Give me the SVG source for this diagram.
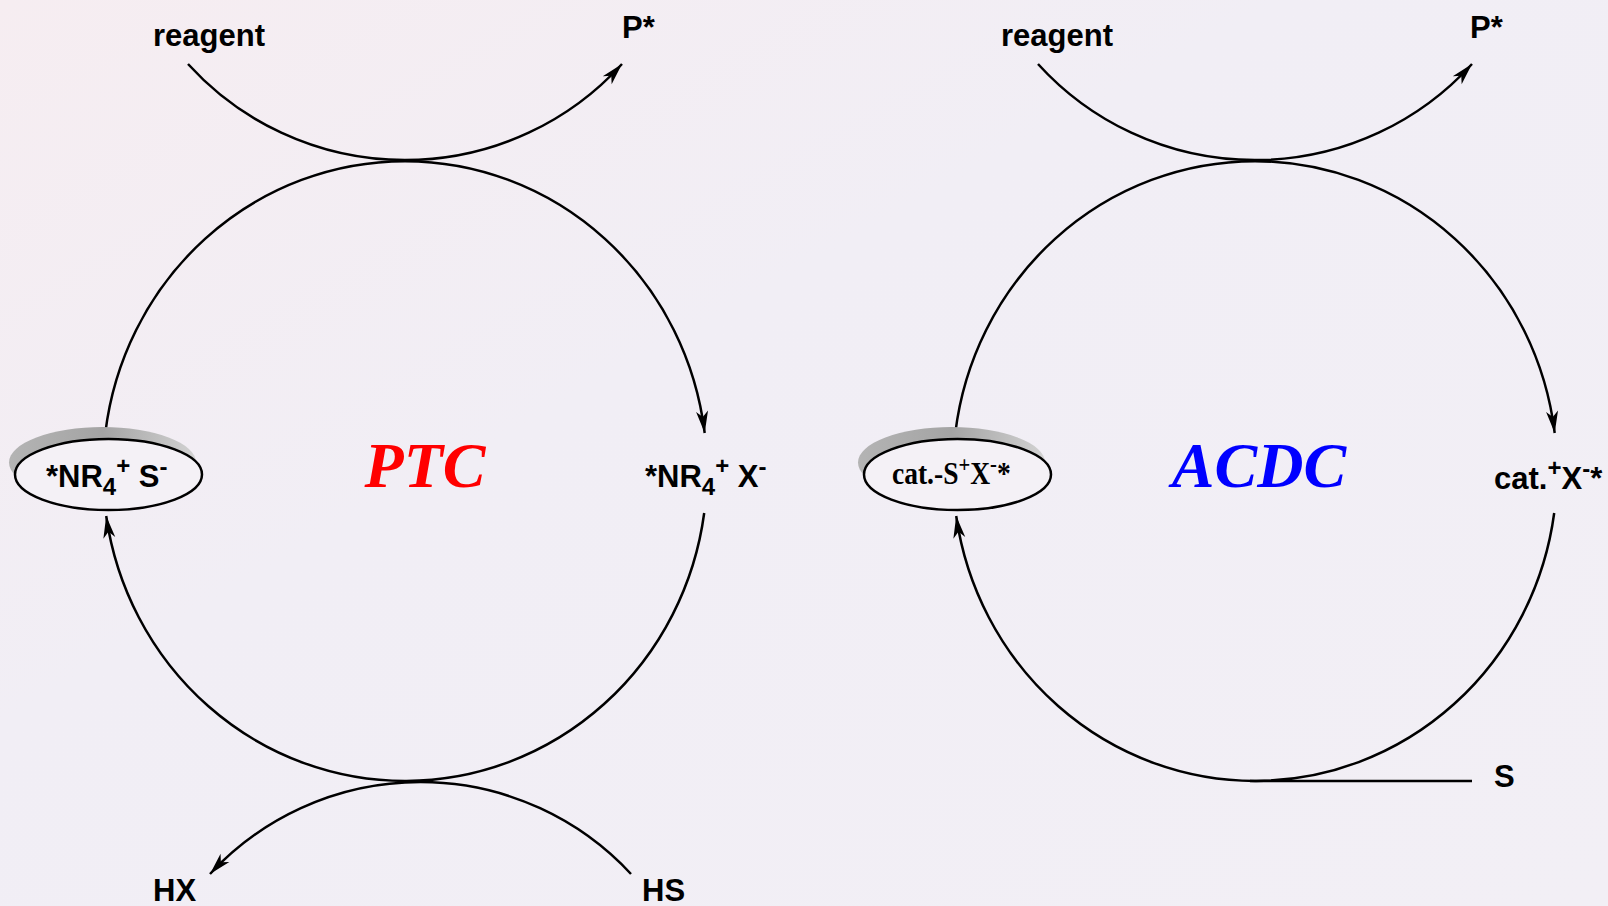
<svg xmlns="http://www.w3.org/2000/svg" width="1608" height="906" viewBox="0 0 1608 906">
<defs>
<linearGradient id="bg" x1="0" y1="0" x2="1" y2="1">
<stop offset="0" stop-color="#f6edf1"/>
<stop offset="0.4" stop-color="#f1eef5"/>
<stop offset="1" stop-color="#f2eff5"/>
</linearGradient>
<linearGradient id="shadow" x1="0" y1="0" x2="1" y2="0">
<stop offset="0" stop-color="#b4b4b4"/>
<stop offset="0.5" stop-color="#a4a4a4"/>
<stop offset="1" stop-color="#d2d2d2"/>
</linearGradient>
<marker id="arr" viewBox="-23 -7 24 14" refX="0" refY="0" markerWidth="24" markerHeight="14" markerUnits="userSpaceOnUse" orient="auto">
<path d="M0,0 L-22,-6 L-16,0 L-22,6 Z" fill="#000"/>
</marker>
</defs>
<style>
.ln{fill:none;stroke:#000;stroke-width:2.5}
.lbl{font-family:"Liberation Sans",Arial,sans-serif;font-weight:bold;font-size:31px;fill:#000}
.lbs{font-family:"Liberation Serif","Times New Roman",serif;font-weight:bold;font-size:32px;fill:#000}
.big{font-family:"Liberation Serif","Times New Roman",serif;font-weight:bold;font-style:italic;font-size:64px}
.node{fill:#f4f1f6;stroke:#000;stroke-width:2.5}
.shd{fill:url(#shadow)}
</style>
<rect x="0" y="0" width="1608" height="906" fill="url(#bg)"/>

<g id="connectors">
<path class="ln" d="M105.3,433 A302,310 0 0 1 704.7,433" marker-end="url(#arr)"/>
<path class="ln" d="M704.2,513 A302,310 0 0 1 106.2,516" marker-end="url(#arr)"/>
<path class="ln" d="M188,64 A293,293 0 0 0 622,64" marker-end="url(#arr)"/>
<path class="ln" d="M631,874 A287,287 0 0 0 210,874" marker-end="url(#arr)"/>
<path class="ln" d="M955.3,433 A302,310 0 0 1 1554.7,433" marker-end="url(#arr)"/>
<path class="ln" d="M1554.2,513 A302,310 0 0 1 956.2,516" marker-end="url(#arr)"/>
<path class="ln" d="M1038,64 A293,293 0 0 0 1472,64" marker-end="url(#arr)"/>
<path class="ln" d="M1250,781 L1472,781"/>
</g>

<g id="node-nr4s">
<ellipse class="shd" cx="102.5" cy="462.5" rx="93.5" ry="35.5"/>
<ellipse class="node" cx="108.5" cy="474.5" rx="93.5" ry="35.5"/>
<text class="lbl" x="46" y="487">*NR<tspan font-size="24" dy="8">4</tspan><tspan font-size="24" dy="-21">+</tspan><tspan dy="13"> S</tspan><tspan font-size="24" dy="-12">-</tspan></text>
</g>

<g id="node-nr4x">
<text class="lbl" x="645" y="487">*NR<tspan font-size="24" dy="8">4</tspan><tspan font-size="24" dy="-21">+</tspan><tspan dy="13"> X</tspan><tspan font-size="24" dy="-12">-</tspan></text>
</g>

<g id="node-reagent-left"><text class="lbl" x="153" y="46">reagent</text></g>
<g id="node-pstar-left"><text class="lbl" x="622" y="38">P*</text></g>
<g id="node-hx"><text class="lbl" x="153" y="901">HX</text></g>
<g id="node-hs"><text class="lbl" x="642" y="901">HS</text></g>
<g id="label-ptc"><text class="big" x="425" y="487" text-anchor="middle" fill="#ff0000">PTC</text></g>

<g id="node-cat-sx">
<ellipse class="shd" cx="951.5" cy="462.5" rx="93.5" ry="35.5"/>
<ellipse class="node" cx="957.5" cy="474.5" rx="93.5" ry="35.5"/>
<text class="lbs" transform="translate(892,484) scale(0.86,1)" x="0" y="0">cat.-S<tspan font-size="24" dy="-12">+</tspan><tspan dy="12">X</tspan><tspan font-size="24" dy="-12">-</tspan><tspan dy="12">*</tspan></text>
</g>

<g id="node-cat-x">
<text class="lbl" x="1494" y="489">cat.<tspan font-size="24" dy="-13">+</tspan><tspan dy="13">X</tspan><tspan font-size="24" dy="-12">-</tspan><tspan dy="12">*</tspan></text>
</g>

<g id="node-reagent-right"><text class="lbl" x="1001" y="46">reagent</text></g>
<g id="node-pstar-right"><text class="lbl" x="1470" y="38">P*</text></g>
<g id="node-s"><text class="lbl" x="1494" y="787">S</text></g>
<g id="label-acdc"><text class="big" x="1259" y="487" text-anchor="middle" fill="#0000ff">ACDC</text></g>
</svg>
